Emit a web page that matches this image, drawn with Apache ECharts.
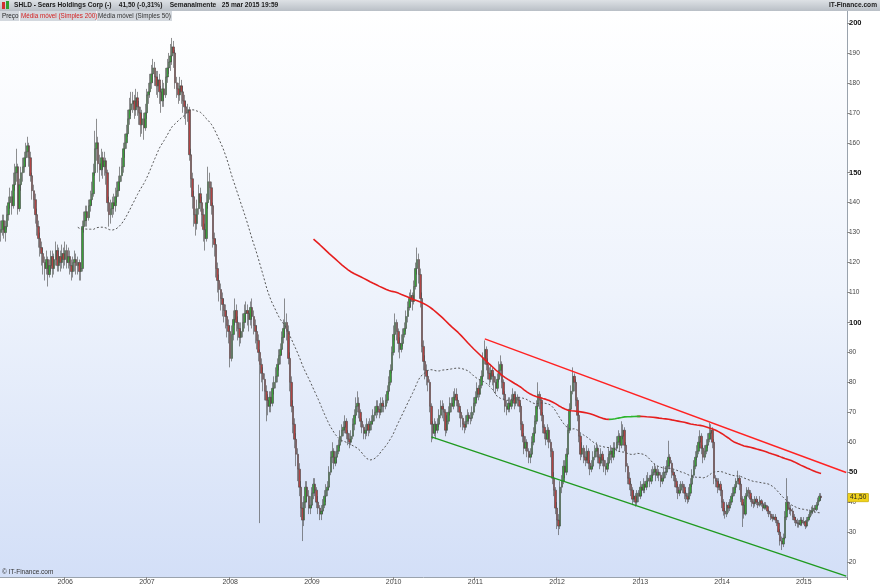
<!DOCTYPE html>
<html><head><meta charset="utf-8">
<script src="https://cdn.jsdelivr.net/npm/echarts@6/dist/echarts.min.js"></script>
<style>html,body{margin:0;padding:0;background:#fff}#c{width:880px;height:587px}</style>
</head><body><div id="c"></div>
<script>
// ---- data ----
const firstWeek = '2005-03-21';
const totalSlots = 539; // weekly slots shown on the axis (data + empty space to the right)
// weekly candles [open, close, low, high]
const ohlc000 = [
[130,131,127,134],[131,134,129,136],[134,130,128,136],[130,132,127,134],[132,136,131,139],[136,140,134,142],[140,142,138,145],[142,139,136,144],[139,146,138,150],[146,150,144,153],
[150,152,147,158],[152,138,136,153],[138,146,137,148],[146,150,144,152],[150,152,147,155],[152,155,150,157],[155,157,152,160],[157,159,155,162],[159,155,152,160],[155,149,147,157],
[149,144,141,150],[144,141,138,146],[141,136,133,143],[136,132,129,138],[132,128,125,134],[128,125,122,130],[125,123,119,127],[123,120,116,125],[120,118,114,122],[118,121,116,124],
[121,116,112,122],[116,119,115,121],[119,122,117,124],[122,118,115,124],[118,121,116,123],[121,124,119,127],[124,119,117,126],[119,122,117,125],[122,120,117,124],[120,123,118,126],
[123,121,118,125],[121,124,119,127],[124,120,118,126],[120,122,118,125],[122,119,116,124],[119,117,114,121],[117,120,115,122],[120,121,117,124],[121,119,116,123],[119,120,116,122],
[120,117,114,121],[117,118,114,120],[118,132,117,134],[132,134,130,137],[134,137,132,139],[137,135,132,139],[135,139,134,141],[139,141,137,144],[141,143,139,147],[143,150,142,153],
[150,158,149,164],[158,160,154,168],[160,153,150,162],[153,151,147,156],[151,155,149,158],[155,152,148,157],[152,154,149,157],[154,150,146,155],[150,140,137,151],[140,136,132,142],
[136,138,133,141],[138,140,135,142],[140,139,136,143],[139,142,137,145],[142,144,140,147],[144,147,142,149],[147,149,144,152],[149,152,147,155],[152,158,150,160],[158,160,155,163],
[160,163,158,166],[163,168,162,171],[168,171,166,175],[171,173,169,177],[173,174,170,177],[174,171,168,176],[171,175,169,178],[175,172,169,177],[172,170,166,174],[170,166,162,172],
[166,168,163,171],[168,165,161,170],[165,170,164,173],[170,176,168,178],[176,177,173,180],[177,180,175,183],[180,183,178,186],[183,185,180,188],[185,182,179,187],[182,179,176,184]
];
const ohlc100 = [
[179,181,175,184],[181,177,173,183],[177,174,170,179],[174,178,172,181],[178,176,172,180],[176,182,175,185],[182,185,180,188],[185,187,183,190],[187,189,184,193],[189,192,186,195],
[192,190,185,194],[190,180,178,191],[180,178,175,182],[178,176,173,180],[176,179,174,182],[179,177,173,181],[177,174,170,179],[174,172,168,176],[172,170,166,174],[170,171,167,173],
[171,156,154,172],[156,148,145,158],[148,142,138,150],[142,136,132,144],[136,133,129,138],[133,138,131,141],[138,143,136,146],[143,140,137,145],[140,136,132,142],[136,131,127,138],
[131,128,124,133],[128,140,127,143],[140,147,138,152],[147,145,141,150],[145,139,136,147],[139,128,125,140],[128,126,122,130],[126,118,115,128],[118,114,110,120],[114,111,107,116],
[111,108,104,113],[108,106,102,110],[106,104,100,108],[104,102,98,106],[102,99,95,104],[99,97,93,101],[97,88,85,99],[88,96,87,99],[96,101,94,104],[101,104,99,108],
[104,100,97,106],[100,98,94,102],[98,95,92,100],[95,97,93,100],[97,100,95,103],[100,103,98,106],[103,104,100,107],[104,103,99,106],[103,101,97,104],[101,105,99,107],
[105,102,98,108],[102,99,96,104],[99,97,93,101],[97,94,91,99],[94,90,87,96],[90,86,33,91],[86,83,80,88],[83,81,77,85],[81,77,74,83],[77,74,67,79],
[74,72,69,76],[72,75,70,77],[75,73,70,77],[73,78,72,80],[78,80,76,82],[80,82,78,85],[82,86,80,88],[86,89,84,91],[89,91,86,93],[91,95,89,97],
[95,98,93,101],[98,100,95,108],[100,97,94,103],[97,88,86,99],[88,80,77,90],[80,72,70,82],[72,66,63,74],[66,61,58,68],[61,56,52,63],[56,51,47,58],
[51,45,42,53],[45,38,35,47],[38,34,27,40],[34,40,32,42],[40,45,38,47],[45,42,40,47],[42,38,36,44],[38,39,36,42],[39,43,38,45],[43,46,41,48]
];
const ohlc200 = [
[46,44,42,48],[44,40,38,45],[40,38,36,42],[38,36,34,39],[36,37,34,39],[37,39,36,41],[39,42,38,44],[42,44,40,46],[44,45,42,47],[45,50,44,52],
[50,55,49,57],[55,57,53,60],[57,53,51,58],[53,55,52,57],[55,57,53,59],[57,59,56,61],[59,62,58,64],[62,64,60,66],[64,65,62,67],[65,67,63,69],
[67,63,61,68],[63,61,59,64],[61,60,58,63],[60,62,59,64],[62,66,61,68],[66,69,64,71],[69,72,68,75],[72,73,70,77],[73,70,68,75],[70,67,65,71],
[67,65,63,68],[65,63,61,66],[63,64,61,66],[64,66,62,68],[66,64,62,67],[64,66,63,68],[66,67,64,69],[67,69,66,71],[69,70,67,72],[70,72,68,74],
[72,71,69,74],[71,70,68,73],[70,73,69,75],[73,72,70,75],[72,72,70,74],[72,74,71,76],[74,77,73,79],[77,80,76,82],[80,84,79,86],[84,90,83,92],
[90,96,89,99],[96,100,94,103],[100,97,94,101],[97,93,90,98],[93,91,88,95],[91,93,90,96],[93,96,92,98],[96,98,95,100],[98,102,97,104],[102,105,100,107],
[105,108,104,110],[108,109,105,111],[109,107,104,110],[107,112,106,114],[112,118,111,120],[118,121,116,125],[121,116,113,123],[116,108,105,118],[108,92,90,110],[92,87,84,94],
[87,84,81,89],[84,82,79,86],[82,80,77,84],[80,72,70,81],[72,66,60,73],[66,63,61,67],[63,66,62,68],[66,64,61,67],[64,66,63,68],[66,69,65,71],
[69,72,68,74],[72,71,68,74],[71,70,67,73],[70,64,62,71],[64,67,63,69],[67,70,66,72],[70,73,69,75],[73,72,70,75],[72,75,71,77],[75,76,73,78],
[76,74,72,78],[74,72,70,75],[72,70,68,73],[70,68,65,71],[68,66,64,69],[66,65,63,67],[65,67,64,69],[67,69,66,71],[69,68,66,70],[68,68,66,70]
];
const ohlc300 = [
[68,70,67,72],[70,73,69,75],[73,75,72,77],[75,78,74,80],[78,76,74,79],[76,79,75,81],[79,82,78,84],[82,88,81,90],[88,91,86,94],[91,86,84,92],
[86,83,81,88],[83,81,79,85],[81,84,80,86],[84,82,79,85],[82,80,77,83],[80,78,76,82],[78,81,77,83],[81,84,80,87],[84,86,82,89],[86,80,78,87],
[80,76,74,81],[76,72,70,77],[72,71,69,74],[71,73,70,75],[73,72,70,75],[72,74,71,76],[74,76,73,78],[76,73,71,77],[73,75,72,77],[75,74,72,76],
[74,72,70,75],[72,66,64,73],[66,62,60,67],[62,58,56,63],[58,60,57,62],[60,57,55,61],[57,55,53,58],[55,56,53,58],[56,60,55,62],[60,63,59,65],
[63,67,62,69],[67,72,66,74],[72,76,71,80],[76,74,71,77],[74,69,67,75],[69,65,63,70],[65,63,61,66],[63,61,59,64],[61,64,60,66],[64,60,58,65],
[60,57,55,61],[57,48,46,58],[48,44,42,50],[44,38,36,45],[38,34,31,40],[34,32,29,36],[32,45,31,47],[45,47,43,49],[47,52,46,54],[52,50,48,54],
[50,56,49,58],[56,64,55,66],[64,71,63,73],[71,77,70,79],[77,82,76,85],[82,80,77,83],[80,74,72,81],[74,69,67,75],[69,62,60,70],[62,56,54,63],
[56,58,55,60],[58,55,53,59],[55,54,52,57],[54,57,53,59],[57,53,51,58],[53,51,49,54],[51,52,50,54],[52,55,51,57],[55,57,54,59],[57,58,55,60],
[58,55,53,59],[55,53,51,56],[53,56,52,58],[56,54,52,57],[54,52,50,55],[52,51,49,54],[51,53,50,55],[53,56,52,58],[56,57,54,59],[57,55,53,58],
[55,58,54,60],[58,58,56,60],[58,60,57,62],[60,62,59,64],[62,59,57,63],[59,62,58,67],[62,64,61,66],[64,59,57,65],[59,52,50,60],[52,48,46,53]
];
const ohlc400 = [
[48,46,44,50],[46,44,42,47],[44,41,39,45],[41,42,40,44],[42,40,38.5,43],[40,43,39,44],[43,42,40,44],[42,45,41,47],[45,44,42,46],[44,46,43,48],
[46,45,43,47],[45,47,44,49],[47,48,46,50],[48,47,45,49],[47,49,46,51],[49,50,48,52],[50,51,49,53],[51,49,47,52],[49,50,48,52],[50,49,47,51],
[49,47,45,50],[47,48,46,50],[48,50,47,52],[50,50,48,52],[50,52,49,54],[52,55,51,60.5],[55,53,51,56],[53,50,48,54],[50,49,47,51],[49,47,45,50],
[47,45,43,48],[45,43,41,46],[43,44,42,46],[44,46,43,47],[46,45,43,47],[45,43,41,46],[43,42,40,44],[42,41,39.5,43],[41,43,40,45],[43,46,42,48],
[46,49,45,51],[49,52,48,54],[52,55,51,57],[55,57,54,59],[57,60,56,62],[60,62,58,64],[62,58,56,63],[58,55,53,59],[55,57,54,59],[57,59,56,61],
[59,61,58,63],[61,63,60,66.5],[63,64,61,66],[64,60,58,65],[60,48,46,61],[48,47,45,49],[47,45,43,48],[45,46,44,48],[46,44,42,47],[44,40,38,45],
[40,37,35.5,41],[37,36,34.5,38],[36,39,35,40],[39,38,36.5,40],[38,40,37,41],[40,42,39,43],[42,43,41,45],[43,45,42,46],[45,47,44,48],[47,48,46,50.5],
[48,46,44,49],[46,41,40,47],[41,39,31.7,42],[39,36,34.5,40],[36,42,35.5,43],[42,44,41,45],[44,43,41.5,45],[43,41,40,44],[41,40,38.5,42],[40,39.5,38,41],
[39.5,41,38.5,42],[41,40,39,42],[40,39,38,41],[39,40.5,38.5,42],[40.5,39.5,38.5,41],[39.5,38,37,40],[38,39,37.5,40],[39,38.5,37.5,40],[38.5,37,36,39],[37,36,35,37.5],
[36,35,34,37],[35,34.5,33.5,36],[34.5,35,34,36],[35,34,33,36],[34,33,32,35],[33,30,29,34],[30,27,25.5,31],[27,26,24,28.5],[26,28,25,29.5],[28,35,27.5,37]
];
const ohlc500 = [
[35,40,34,48],[40,38,37,42],[38,37.5,36,40],[37.5,37,35.5,39],[37,35,34,38],[35,34,33,36],[34,33,32,35],[33,33,31.5,34.5],[33,32.5,31.5,34],[32.5,34,32,35],
[34,33,32,35],[33,33.5,32.5,35],[33.5,32,31,34],[32,34,31.5,35],[34,35,33.5,36],[35,36.5,34.5,37.5],[36.5,37,35.5,38.5],[37,38,36,39],[38,37.5,36.5,39],[37.5,39,37,40],
[39,40.5,38.5,41.5],[40.5,42,40,43],[42,41.5,40.5,43]
];
const yTickValues = [20,30,40,50,60,70,80,90,100,110,120,130,140,150,160,170,180,190,200];
const yBoldValues = [50,100,150,200];
const lastPrice = 41.5;
const lastPriceText = '41,50';
// hand-drawn trend lines: [week index, price]
const resistanceLine = [[308,94.5],[538,49.9]];
const supportLine = [[274,61.8],[538,15.3]];
const headerText = 'SHLD - Sears Holdings Corp (-)    41,50 (-0,31%)    Semanalmente   25 mar 2015 19:59';
const legendNames = ['Preço','Média móvel (Simples 200)','Média móvel (Simples 50)'];

// ---- build ----
const candles = [].concat(ohlc000, ohlc100, ohlc200, ohlc300, ohlc400, ohlc500);
const cats = [];
{
  const t0 = Date.UTC(2005, 2, 21);
  for (let i = 0; i < totalSlots; i++) {
    const d = new Date(t0 + i * 7 * 86400000);
    cats.push(d.toISOString().slice(0, 10));
  }
}
const closes = candles.map(c => c[1]);
function sma(n) {
  return closes.map((_, i) => {
    if (i < n - 1) return null;
    let s = 0; for (let k = i - n + 1; k <= i; k++) s += closes[k];
    return +(s / n).toFixed(3);
  });
}
const ma50 = sma(50);
const ma200 = sma(200);
const ma200Red = ma200.map(() => null), ma200Green = ma200.map(() => null);
for (let i = 1; i < ma200.length; i++) {
  if (ma200[i] == null || ma200[i - 1] == null) continue;
  const arr = ma200[i] > ma200[i - 1] ? ma200Green : ma200Red;
  arr[i - 1] = ma200[i - 1]; arr[i] = ma200[i];
}
const yearStart = (idx) => idx > 0 && cats[idx].slice(0, 4) !== cats[idx - 1].slice(0, 4);

const FONT = "'Liberation Sans',Arial,sans-serif";
const chart = echarts.init(document.getElementById('c'), null, {renderer: 'canvas'});
chart.setOption({
  animation: false,
  textStyle: {fontFamily: FONT},
  grid: {
    left: 0, right: 33, top: 11, bottom: 10, show: true, borderWidth: 0,
    outerBoundsMode: 'none',
    backgroundColor: {type: 'linear', x: 0, y: 0, x2: 0, y2: 1,
      colorStops: [{offset: 0, color: '#ffffff'}, {offset: 0.5, color: '#eef3fc'}, {offset: 1, color: '#d3dff7'}]}
  },
  xAxis: {
    type: 'category', data: cats, boundaryGap: true,
    axisLine: {show: true, lineStyle: {color: '#9aa3ad', width: 1}},
    axisTick: {show: true, interval: yearStart, length: 3, lineStyle: {color: '#888'}},
    axisLabel: {interval: yearStart, formatter: v => v.slice(0, 4), fontSize: 7, color: '#444', margin: 2, fontFamily: FONT},
    splitLine: {show: false}
  },
  yAxis: {
    type: 'value', position: 'right', min: 15, max: 204,
    splitLine: {show: false},
    axisLine: {show: true, lineStyle: {color: '#9aa3ad', width: 1}},
    axisTick: {show: true, length: 3, customValues: yTickValues, lineStyle: {color: '#888'}},
    axisLabel: {
      customValues: yTickValues, margin: 2, fontSize: 6.5, color: '#444', fontFamily: FONT,
      formatter: v => yBoldValues.includes(v) ? '{b|' + v + '}' : String(v),
      rich: {b: {fontWeight: 'bold', fontSize: 7.5, color: '#111', fontFamily: FONT}}
    }
  },
  series: [
    {
      type: 'candlestick', name: 'Preço', data: candles, barWidth: 2,
      itemStyle: {color: '#3a9e3a', color0: '#b04444', borderColor: '#444', borderColor0: '#444', borderWidth: 0.6},
      markLine: {
        symbol: 'none', silent: true, animation: false,
        lineStyle: {width: 0, color: 'rgba(0,0,0,0)'},
        data: [{yAxis: lastPrice}],
        label: {show: true, position: 'end', formatter: lastPriceText, distance: 1,
          backgroundColor: '#f0d21c', borderColor: '#b39b10', borderWidth: 0.5,
          color: '#222', fontSize: 6.5, padding: [1, 2, 0, 2], fontFamily: FONT}
      }
    },
    {type: 'line', name: 'sma50', data: ma50, showSymbol: false, symbol: 'none', connectNulls: false,
      lineStyle: {color: '#555', width: 1, type: [2, 2]}, z: 3},
    {type: 'line', name: 'sma200r', data: ma200Red, showSymbol: false, symbol: 'none', connectNulls: false,
      lineStyle: {color: '#e61e1e', width: 1.6}, z: 4},
    {type: 'line', name: 'sma200g', data: ma200Green, showSymbol: false, symbol: 'none', connectNulls: false,
      lineStyle: {color: '#2db52d', width: 1.6}, z: 4},
    {type: 'line', name: 'res', data: resistanceLine, showSymbol: false, symbol: 'none',
      lineStyle: {color: '#ff2222', width: 1.4}, z: 5},
    {type: 'line', name: 'sup', data: supportLine, showSymbol: false, symbol: 'none',
      lineStyle: {color: '#1f9a1f', width: 1.4}, z: 5}
  ],
  graphic: [
    {type: 'rect', left: 0, top: 0, z: 100, shape: {width: 880, height: 11},
      style: {fill: {type: 'linear', x: 0, y: 0, x2: 0, y2: 1, colorStops: [{offset: 0, color: '#dde1e5'}, {offset: 1, color: '#b9bfc6'}]}}},
    {type: 'rect', left: 2, top: 2, z: 101, shape: {width: 3, height: 7}, style: {fill: '#d23030'}},
    {type: 'rect', left: 6, top: 1, z: 101, shape: {width: 3, height: 8}, style: {fill: '#30a030'}},
    {type: 'text', left: 14, top: 2, z: 101, style: {text: headerText, font: 'bold 6.6px ' + FONT, fill: '#1a1a1a'}},
    {type: 'text', right: 3, top: 2, z: 101, style: {text: 'IT-Finance.com', font: 'bold 6.6px ' + FONT, fill: '#1a1a1a'}},
    {type: 'rect', left: 0, top: 11, z: 100, shape: {width: 172, height: 10}, style: {fill: '#d3d8de'}},
    {type: 'rect', left: 19, top: 11, z: 101, shape: {width: 1, height: 10}, style: {fill: '#f4f6f8'}},
    {type: 'rect', left: 96, top: 11, z: 101, shape: {width: 1, height: 10}, style: {fill: '#f4f6f8'}},
    {type: 'text', left: 2, top: 13, z: 101, style: {text: legendNames[0], font: '6.3px ' + FONT, fill: '#222'}},
    {type: 'text', left: 21, top: 13, z: 101, style: {text: legendNames[1], font: '6.3px ' + FONT, fill: '#d42020'}},
    {type: 'text', left: 98, top: 13, z: 101, style: {text: legendNames[2], font: '6.3px ' + FONT, fill: '#333'}},
    {type: 'text', left: 2, top: 569, z: 101, style: {text: '© IT-Finance.com', font: '6.5px ' + FONT, fill: '#333'}}
  ]
});
</script></body></html>
